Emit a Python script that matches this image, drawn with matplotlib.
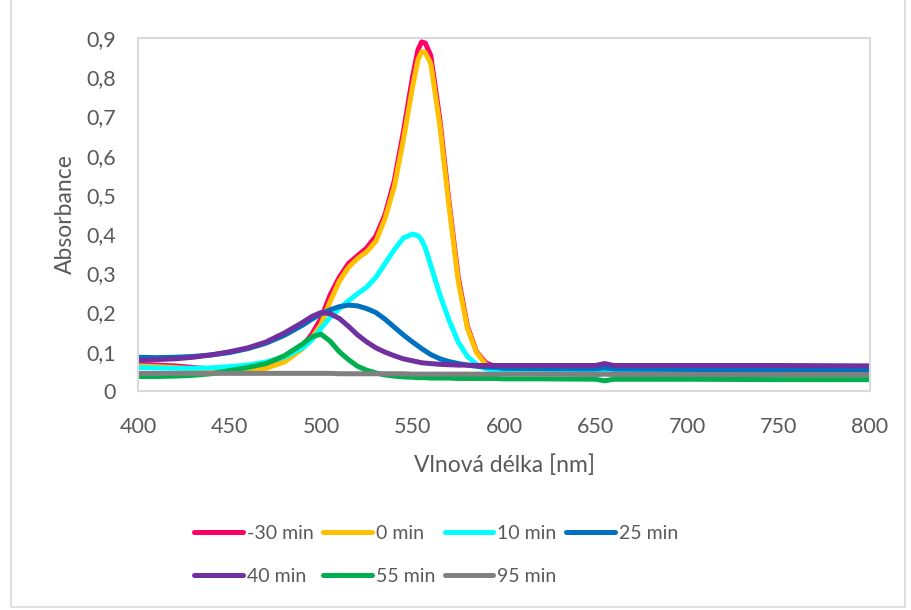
import matplotlib
matplotlib.use("Agg")
import matplotlib.pyplot as plt
from matplotlib.patches import Rectangle
from matplotlib.ticker import FuncFormatter

plt.rcParams['font.family'] = ['Lato', 'DejaVu Sans']

# wavelengths [nm]
wl = [400, 410, 420, 430, 440, 450, 460, 470, 480, 490, 495, 500, 505, 510, 515,
      520, 525, 530, 535, 540, 545, 550, 553, 555, 557, 560, 565, 570, 575, 580,
      585, 590, 595, 600, 620, 650, 655, 660, 700, 750, 800]

a_m30 = [0.068, 0.066, 0.064, 0.060, 0.056, 0.054, 0.056, 0.064, 0.080, 0.115, 0.145,
         0.185, 0.245, 0.290, 0.325, 0.345, 0.365, 0.395, 0.450, 0.535, 0.660, 0.800,
         0.870, 0.890, 0.887, 0.855, 0.690, 0.480, 0.290, 0.165, 0.100, 0.072, 0.063,
         0.060, 0.057, 0.055, 0.055, 0.054, 0.052, 0.050, 0.048]
a_0 = [0.064, 0.062, 0.060, 0.056, 0.052, 0.050, 0.051, 0.058, 0.074, 0.108, 0.135,
       0.170, 0.228, 0.280, 0.315, 0.338, 0.355, 0.382, 0.440, 0.520, 0.640, 0.775,
       0.845, 0.865, 0.863, 0.835, 0.675, 0.470, 0.280, 0.160, 0.098, 0.068, 0.058,
       0.055, 0.052, 0.050, 0.050, 0.050, 0.049, 0.048, 0.047]
a_10 = [0.060, 0.059, 0.058, 0.058, 0.059, 0.062, 0.066, 0.074, 0.086, 0.110, 0.130,
        0.160, 0.188, 0.210, 0.230, 0.248, 0.265, 0.290, 0.325, 0.360, 0.390, 0.400,
        0.396, 0.385, 0.365, 0.320, 0.245, 0.180, 0.125, 0.088, 0.068, 0.057, 0.053,
        0.052, 0.051, 0.050, 0.050, 0.050, 0.050, 0.050, 0.050]
a_25 = [0.086, 0.085, 0.086, 0.088, 0.092, 0.098, 0.108, 0.122, 0.142, 0.168, 0.183,
        0.197, 0.207, 0.215, 0.219, 0.217, 0.210, 0.200, 0.183, 0.163, 0.143, 0.125,
        0.115, 0.108, 0.102, 0.093, 0.082, 0.075, 0.070, 0.066, 0.063, 0.061, 0.060,
        0.058, 0.057, 0.056, 0.059, 0.056, 0.055, 0.054, 0.053]
a_40 = [0.078, 0.080, 0.082, 0.086, 0.092, 0.100, 0.110, 0.125, 0.148, 0.175, 0.190,
        0.200, 0.197, 0.185, 0.165, 0.143, 0.125, 0.110, 0.099, 0.090, 0.082, 0.077,
        0.074, 0.072, 0.071, 0.070, 0.068, 0.067, 0.066, 0.066, 0.065, 0.065, 0.065,
        0.065, 0.065, 0.065, 0.070, 0.065, 0.065, 0.065, 0.064]
a_55 = [0.037, 0.037, 0.038, 0.040, 0.044, 0.052, 0.060, 0.070, 0.090, 0.120, 0.138,
        0.145, 0.127, 0.100, 0.080, 0.063, 0.053, 0.046, 0.041, 0.038, 0.036, 0.035,
        0.034, 0.034, 0.034, 0.033, 0.033, 0.033, 0.032, 0.032, 0.032, 0.032, 0.032,
        0.031, 0.031, 0.030, 0.026, 0.030, 0.030, 0.029, 0.029]
a_95 = [0.045, 0.045, 0.045, 0.045, 0.045, 0.045, 0.045, 0.045, 0.045, 0.045, 0.045,
        0.045, 0.045, 0.044, 0.044, 0.044, 0.044, 0.044, 0.044, 0.044, 0.044, 0.043,
        0.043, 0.043, 0.043, 0.043, 0.043, 0.043, 0.043, 0.043, 0.043, 0.043, 0.043,
        0.043, 0.043, 0.042, 0.043, 0.042, 0.042, 0.042, 0.042]

labels = ['-30 min', '0 min', '10 min', '25 min', '40 min', '55 min', '95 min']
colors = ['#FF0066', '#FFC000', '#00FFFF', '#0070C0', '#7030A0', '#00B050', '#808080']
series = [a_m30, a_0, a_10, a_25, a_40, a_55, a_95]

txt = '#595959'

fig = plt.figure(figsize=(9.11, 6.10), dpi=100)
ax = fig.add_axes([138 / 911, 1 - 391 / 610, (870 - 138) / 911, (391 - 38) / 610])

lines = []
for ys, c, lab in zip(series, colors, labels):
    l, = ax.plot(wl, ys, color=c, lw=3.6, label=lab,
                 solid_capstyle='round', solid_joinstyle='round')
    lines.append(l)

ax.set_xlim(400, 800)
ax.set_ylim(0, 0.9)
ax.set_xticks(range(400, 801, 50))
ax.set_yticks([i / 10 for i in range(10)])
ax.yaxis.set_major_formatter(FuncFormatter(
    lambda v, p: '0' if abs(v) < 1e-9 else ('%.1f' % v).replace('.', ',')))
ax.tick_params(length=0, labelsize=15.5, colors=txt)
ax.tick_params(axis='x', pad=19)
ax.tick_params(axis='y', pad=16)
for s in ax.spines.values():
    s.set_color('#D9D9D9')
    s.set_linewidth(1.5)

ax.set_xlabel('Vlnová délka [nm]', fontsize=16.5, color=txt, labelpad=12)
ax.set_ylabel('Absorbance', fontsize=16.5, color=txt, labelpad=7)

# legend in row order (matplotlib fills columns first)
order = [0, 4, 1, 5, 2, 6, 3]
leg = fig.legend([lines[i] for i in order], [labels[i] for i in order],
                 ncol=4, loc='center', bbox_to_anchor=(436 / 911, 1 - 555 / 610),
                 frameon=False, fontsize=14, labelcolor=txt,
                 handlelength=2.5, handletextpad=0.2, columnspacing=0.5,
                 labelspacing=1.35)

# outer chart border
fig.patches.append(Rectangle((11 / 911, 3 / 610), 894 / 911, 620 / 610,
                             transform=fig.transFigure, fill=False,
                             edgecolor='#D9D9D9', lw=1.2))

fig.savefig('out.png', dpi=100)
